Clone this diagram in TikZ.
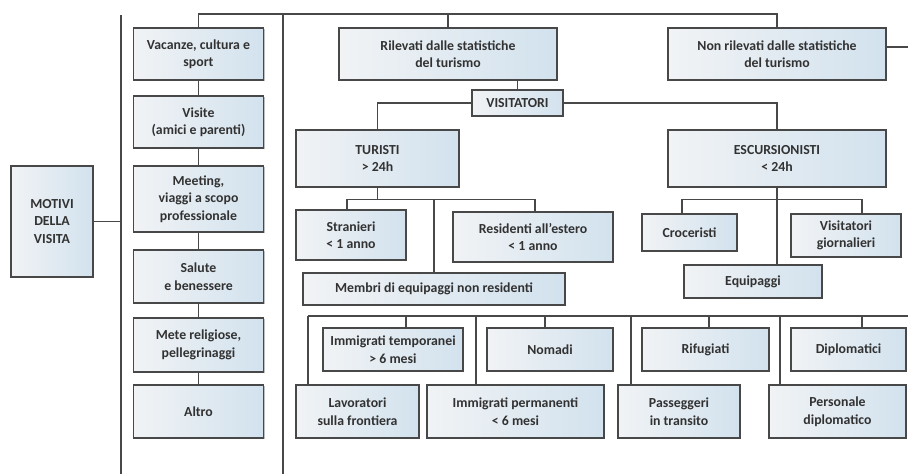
\documentclass[tikz,border=0pt]{standalone}
\usepackage{fontspec}
\setmainfont{Carlito}
\usetikzlibrary{shadows}
\definecolor{boxL}{RGB}{241,243,245}
\definecolor{boxR}{RGB}{210,226,238}
\definecolor{edge}{RGB}{72,72,72}
\definecolor{txt}{RGB}{50,50,50}
\tikzset{
  bx/.style={draw=edge, line width=1.4pt, left color=boxL, right color=boxR,
    inner sep=0pt, align=center, text=txt,
    font=\fontsize{13.8}{17.5}\selectfont\bfseries,
    drop shadow={shadow xshift=1pt, shadow yshift=-1pt, opacity=0.25, fill=black}},
  ln/.style={draw=edge, line width=1.2pt},
}
\newcommand{\bxnode}[6]{\node[bx, minimum width=#4pt, minimum height=#5pt] (#1) at (#2,#3) {#6};}
\begin{document}
\begin{tikzpicture}[x=1pt,y=-1pt]
\useasboundingbox (0,0) rectangle (908,474);
% boxes
\bxnode{mot}{52}{221.5}{82}{111}{MOTIVI\\DELLA\\VISITA}
\bxnode{vac}{198.5}{54}{130}{52}{Vacanze, cultura e\\sport}
\bxnode{vis}{198.5}{122}{130}{52}{Visite\\(amici e parenti)}
\bxnode{mee}{198.5}{199}{130}{66}{Meeting,\\viaggi a scopo\\professionale}
\bxnode{sal}{198.5}{276.5}{130}{53}{Salute\\e benessere}
\bxnode{met}{198.5}{345}{130}{54}{Mete religiose,\\pellegrinaggi}
\bxnode{alt}{198.5}{411.5}{130}{53}{Altro}
\bxnode{ril}{448}{54}{218}{52}{Rilevati dalle statistiche\\del turismo}
\bxnode{non}{777}{54}{218}{52}{Non rilevati dalle statistiche\\del turismo}
\bxnode{vist}{517.5}{103}{91}{26}{VISITATORI}
\bxnode{tur}{377.5}{158.5}{163}{57}{TURISTI\\> 24h}
\bxnode{esc}{777}{158.5}{218}{57}{ESCURSIONISTI\\< 24h}
\bxnode{str}{351}{235}{110}{50}{Stranieri\\< 1 anno}
\bxnode{res}{533}{237}{160}{50}{Residenti all’estero\\< 1 anno}
\bxnode{mem}{434}{289}{262}{32}{Membri di equipaggi non residenti}
\bxnode{cro}{689.5}{232.5}{95}{37}{Croceristi}
\bxnode{vgi}{846}{235.5}{110}{43}{Visitatori\\giornalieri}
\bxnode{equ}{753}{281.5}{138}{33}{Equipaggi}
\bxnode{imt}{393}{349.5}{140}{43}{Immigrati temporanei\\> 6 mesi}
\bxnode{nom}{550}{349.5}{126}{43}{Nomadi}
\bxnode{rif}{705.5}{349.5}{127}{43}{Rifugiati}
\bxnode{dip}{848.5}{349.5}{115}{43}{Diplomatici}
\bxnode{lav}{357.5}{411.5}{123}{53}{Lavoratori\\sulla frontiera}
\bxnode{imp}{515.5}{411.5}{177}{53}{Immigrati permanenti\\< 6 mesi}
\bxnode{pas}{679}{411.5}{122}{53}{Passeggeri\\in transito}
\bxnode{per}{837.5}{411.5}{137}{53}{Personale\\diplomatico}
% helper coordinates
\coordinate (top) at (0,14);
\coordinate (bar) at (308,316);
\coordinate (barend) at (908,316);
\coordinate (lft) at (121,15);
\coordinate (lfb) at (121,474);
\coordinate (mid) at (283,14);
\coordinate (midb) at (283,474);
% connectors
\draw[ln] (lft) -- (lfb);
\draw[ln] (mid) -- (midb);
\draw[ln] (mot.east) -- (mot.east -| lft);
\draw[ln] (vac.south) -- (vis.north);
\draw[ln] (vis.south) -- (mee.north);
\draw[ln] (mee.south) -- (sal.north);
\draw[ln] (sal.south) -- (met.north);
\draw[ln] (met.south) -- (alt.north);
\draw[ln] (vac.north) -- (vac.north |- top) -| (non.north);
\draw[ln] (ril.north) -- (ril.north |- top);
\draw[ln] ([yshift=7pt]non.east) -- ++(22,0);
\draw[ln] (vist.north) -- (vist.north |- ril.south);
\draw[ln] (vist.west) -| (tur.north);
\draw[ln] (vist.east) -| (esc.north);
\draw[ln] (tur.south) -- ++(0,12) coordinate (tb);
\draw[ln] ([xshift=-4pt]str.north) |- (tb) -| ([xshift=2pt]res.north);
\draw[ln] (tb -| mem.north) -- (mem.north);
\draw[ln] (esc.south) -- ++(0,12) coordinate (eb);
\draw[ln] ([xshift=-7.5pt]cro.north) |- (eb) -| ([xshift=16pt]vgi.north);
\draw[ln] (eb) -- (eb |- equ.north);
\draw[ln] (bar) -- (barend);
\draw[ln] (bar) -- (bar |- lav.north);
\draw[ln] ([xshift=13pt]imt.north |- bar) -- ([xshift=13pt]imt.north);
\draw[ln] ([xshift=-39.5pt]imp.north |- bar) -- ([xshift=-39.5pt]imp.north);
\draw[ln] ([xshift=-5pt]nom.north |- bar) -- ([xshift=-5pt]nom.north);
\draw[ln] ([xshift=-48pt]pas.north |- bar) -- ([xshift=-48pt]pas.north);
\draw[ln] ([xshift=3.5pt]rif.north |- bar) -- ([xshift=3.5pt]rif.north);
\draw[ln] ([xshift=-57.5pt]per.north |- bar) -- ([xshift=-57.5pt]per.north);
\draw[ln] ([xshift=13.5pt]dip.north |- bar) -- ([xshift=13.5pt]dip.north);
\end{tikzpicture}
\end{document}
